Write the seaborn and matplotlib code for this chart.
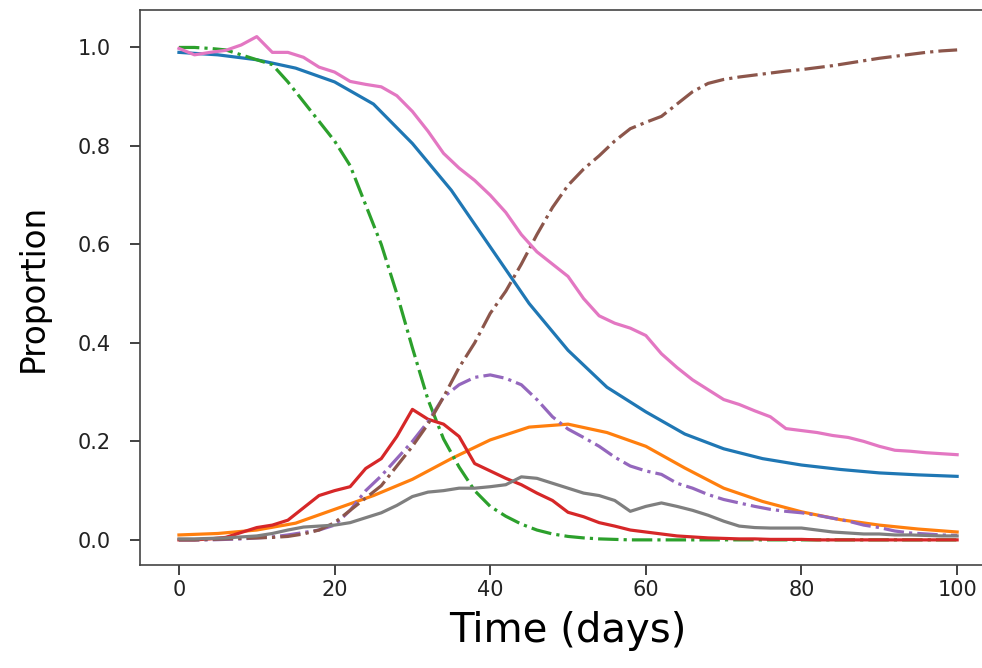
import matplotlib
matplotlib.use("Agg")
import matplotlib.pyplot as plt
import seaborn as sns
import pandas as pd

# ---- data ----
t5 = [0, 5, 10, 15, 20, 25, 30, 35, 40, 45, 50, 55, 60, 65, 70, 75, 80, 85, 90, 95, 100]
model_s = [0.99, 0.985, 0.975, 0.958, 0.93, 0.885, 0.805, 0.71, 0.595, 0.48, 0.385,
           0.31, 0.26, 0.215, 0.185, 0.165, 0.152, 0.143, 0.136, 0.132, 0.129]
model_i = [0.010, 0.013, 0.020, 0.034, 0.062, 0.090, 0.123, 0.165, 0.203, 0.229, 0.235,
           0.218, 0.190, 0.146, 0.105, 0.078, 0.057, 0.041, 0.030, 0.022, 0.016]

t2 = list(range(0, 101, 2))
sim_s = [1.0, 1.0, 0.998, 0.995, 0.985, 0.975, 0.965, 0.93, 0.89, 0.85, 0.81, 0.76, 0.68,
         0.60, 0.50, 0.39, 0.285, 0.205, 0.148, 0.10, 0.068, 0.048, 0.032, 0.02, 0.012,
         0.007, 0.004, 0.002, 0.001, 0, 0, 0, 0, 0, 0, 0, 0, 0, 0, 0, 0, 0, 0, 0, 0, 0,
         0, 0, 0, 0, 0]
sim_r = [0, 0, 0.001, 0.002, 0.003, 0.004, 0.005, 0.007, 0.012, 0.02, 0.035, 0.06, 0.085,
         0.11, 0.15, 0.19, 0.235, 0.29, 0.35, 0.40, 0.46, 0.505, 0.56, 0.62, 0.675, 0.72,
         0.753, 0.78, 0.81, 0.835, 0.848, 0.86, 0.885, 0.91, 0.927, 0.935, 0.94, 0.944,
         0.948, 0.952, 0.955, 0.959, 0.963, 0.968, 0.973, 0.978, 0.982, 0.986, 0.99,
         0.993, 0.995]
sim_i1 = [0, 0, 0.002, 0.005, 0.015, 0.025, 0.03, 0.04, 0.065, 0.09, 0.10, 0.108, 0.145,
          0.165, 0.21, 0.265, 0.245, 0.235, 0.21, 0.155, 0.14, 0.125, 0.112, 0.095, 0.08,
          0.056, 0.047, 0.035, 0.028, 0.02, 0.016, 0.012, 0.008, 0.006, 0.004, 0.003,
          0.002, 0.002, 0.001, 0.001, 0.001, 0, 0, 0, 0, 0, 0, 0, 0, 0, 0]
sim_i2 = [0, 0, 0, 0.001, 0.002, 0.004, 0.006, 0.01, 0.015, 0.02, 0.03, 0.06, 0.10,
          0.13, 0.165, 0.20, 0.24, 0.29, 0.315, 0.33, 0.335, 0.328, 0.315, 0.285, 0.25,
          0.225, 0.208, 0.19, 0.168, 0.15, 0.14, 0.133, 0.115, 0.105, 0.092, 0.082, 0.075,
          0.068, 0.062, 0.058, 0.055, 0.05, 0.044, 0.038, 0.03, 0.025, 0.018, 0.014,
          0.012, 0.01, 0.009]
sim_i3 = [0.002, 0.002, 0.003, 0.004, 0.006, 0.008, 0.013, 0.02, 0.026, 0.028, 0.03, 0.035,
          0.045, 0.055, 0.07, 0.088, 0.097, 0.10, 0.105, 0.105, 0.108, 0.112, 0.128, 0.125,
          0.115, 0.105, 0.095, 0.09, 0.08, 0.058, 0.068, 0.075, 0.068, 0.06, 0.05, 0.038,
          0.028, 0.025, 0.024, 0.024, 0.024, 0.02, 0.016, 0.014, 0.012, 0.012, 0.01, 0.01,
          0.009, 0.008, 0.008]
sim_s_obs = [0.998, 0.985, 0.99, 0.994, 1.005, 1.022, 0.99, 0.99, 0.98, 0.96, 0.95, 0.931,
             0.925, 0.92, 0.902, 0.87, 0.83, 0.785, 0.755, 0.73, 0.70, 0.665, 0.62, 0.585,
             0.56, 0.535, 0.49, 0.455, 0.44, 0.43, 0.415, 0.378, 0.35, 0.325, 0.305, 0.285,
             0.275, 0.262, 0.25, 0.226, 0.222, 0.218, 0.212, 0.208, 0.20, 0.19, 0.182, 0.18,
             0.177, 0.175, 0.173]

x_ticks = [0, 20, 40, 60, 80, 100]
y_ticks = [0.0, 0.2, 0.4, 0.6, 0.8, 1.0]
x_label = "Time (days)"
y_label = "Proportion"

# ---- figure ----
S = 1.53  # scale of the reference relative to matplotlib defaults
fig = plt.figure(figsize=(9.82, 6.68), dpi=100)
ax = fig.add_axes([0.1426, 0.1542, 0.8717, 0.8308])

d5 = pd.DataFrame({"t": t5, "s": model_s, "i": model_i})
d2 = pd.DataFrame({"t": t2, "ss": sim_s, "sr": sim_r, "i1": sim_i1, "i2": sim_i2,
                   "i3": sim_i3, "so": sim_s_obs})

lw = 1.5 * S
sns.lineplot(data=d5, x="t", y="s", color="C0", lw=lw, ax=ax)
sns.lineplot(data=d5, x="t", y="i", color="C1", lw=lw, ax=ax)
sns.lineplot(data=d2, x="t", y="ss", color="C2", lw=lw, ls="-.", ax=ax)
sns.lineplot(data=d2, x="t", y="i1", color="C3", lw=lw, ax=ax)
sns.lineplot(data=d2, x="t", y="i2", color="C4", lw=lw, ls="-.", ax=ax)
sns.lineplot(data=d2, x="t", y="sr", color="C5", lw=lw, ls="-.", ax=ax)
sns.lineplot(data=d2, x="t", y="so", color="C6", lw=lw, ax=ax)
sns.lineplot(data=d2, x="t", y="i3", color="C7", lw=lw, ax=ax)

ax.set_xlim(-5, 105)
ax.set_ylim(-0.051, 1.076)
ax.set_xticks(x_ticks)
ax.set_yticks(y_ticks)
ax.set_xticklabels([str(v) for v in x_ticks])
ax.set_yticklabels([f"{v:.1f}" for v in y_ticks])
ax.tick_params(labelsize=15, length=7, width=1.2, colors="#222222")
ax.tick_params(axis="x", pad=4)
ax.tick_params(axis="y", pad=14)
for sp in ax.spines.values():
    sp.set_linewidth(1.2)
    sp.set_color("#444444")
ax.spines["right"].set_visible(False)
ax.set_xlabel(x_label, fontsize=29, labelpad=8)
ax.set_ylabel(y_label, fontsize=23.5, labelpad=20)

fig.savefig("out.png", dpi=100)
